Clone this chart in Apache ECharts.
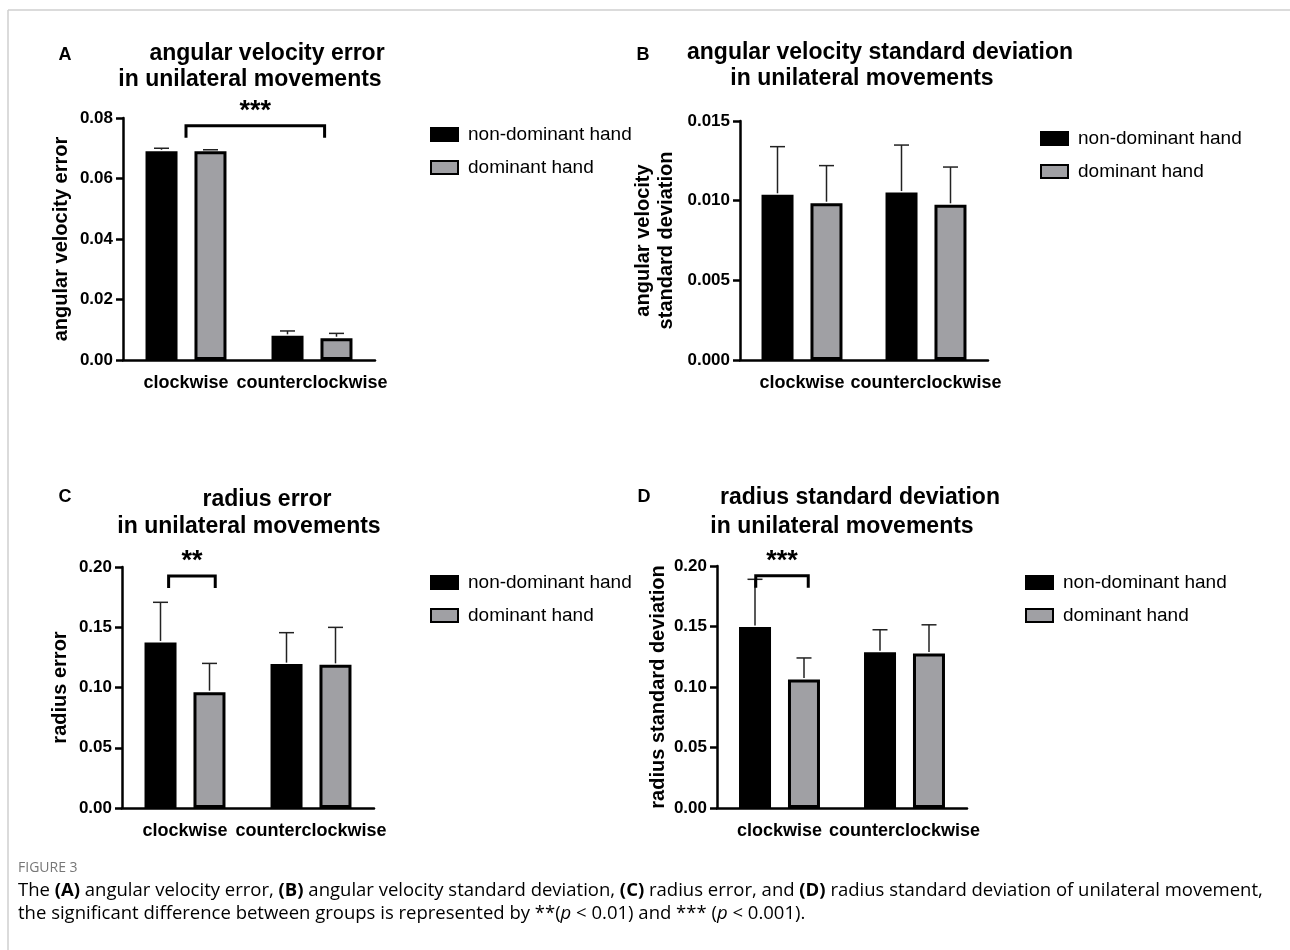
<!DOCTYPE html>
<html>
<head>
<meta charset="utf-8">
<script src="https://cdn.jsdelivr.net/npm/echarts@6/dist/echarts.min.js"></script>
<style>
  html, body { margin: 0; padding: 0; background: #fff; }
  #chart { width: 1290px; height: 950px; }
</style>
</head>
<body>
<div id="chart"></div>
<script>
const categories = ['clockwise', 'counterclockwise'];
const groupNames = ['non-dominant hand', 'dominant hand'];

// A: angular velocity error
const avErrNonDom = [0.0690, 0.0080];
const avErrNonDomSem = [0.0010, 0.0016];
const avErrDom = [0.0690, 0.0072];
const avErrDomSem = [0.0005, 0.0016];
// B: angular velocity standard deviation
const avSdNonDom = [0.01037, 0.01051];
const avSdNonDomSem = [0.00302, 0.00298];
const avSdDom = [0.00984, 0.00974];
const avSdDomSem = [0.00236, 0.00237];
// C: radius error
const radErrNonDom = [0.1374, 0.1194];
const radErrNonDomSem = [0.0333, 0.0261];
const radErrDom = [0.0961, 0.1188];
const radErrDomSem = [0.0239, 0.0311];
// D: radius standard deviation
const radSdNonDom = [0.1495, 0.1288];
const radSdNonDomSem = [0.0395, 0.0185];
const radSdDom = [0.1063, 0.1277];
const radSdDomSem = [0.0177, 0.0237];

// significance brackets: [from, to] in category units, height, label
const bracketA = { from: 0, to: 1.1, y: 0.0774, label: '***' };
const bracketC = { from: -0.13, to: 0.24, y: 0.1925, label: '**' };
const bracketD = { from: -0.19, to: 0.23, y: 0.192, label: '***' };

const yTicksA = { max: 0.08, interval: 0.02, digits: 2 };
const yTicksB = { max: 0.015, interval: 0.005, digits: 3 };
const yTicksC = { max: 0.2, interval: 0.05, digits: 2 };
const yTicksD = { max: 0.2, interval: 0.05, digits: 2 };

const FONT = '"Liberation Sans", Arial, sans-serif';
const GRAY = '#a0a0a4';
const BAR_W = 32;
const HALF_STEP = 24.5; // (bar width + gap) / 2

const chart = echarts.init(document.getElementById('chart'));

function xAxis(gridIndex) {
  return {
    type: 'category', gridIndex: gridIndex, data: categories,
    axisLine: { lineStyle: { color: '#000', width: 2.5 } },
    axisTick: { alignWithLabel: true, length: 9, lineStyle: { color: '#000', width: 2.5 } },
    axisLabel: { color: '#000', fontFamily: FONT, fontWeight: 'bold', fontSize: 18, margin: 14, interval: 0 }
  };
}

function yAxis(gridIndex, t, name, nameGap) {
  return {
    type: 'value', gridIndex: gridIndex, min: 0, max: t.max, interval: t.interval,
    name: name, nameLocation: 'middle', nameGap: nameGap, nameRotate: 90,
    nameTextStyle: { color: '#000', fontFamily: FONT, fontWeight: 'bold', fontSize: 20, lineHeight: 23 },
    axisLine: { show: true, lineStyle: { color: '#000', width: 2.5 } },
    axisTick: { show: true, length: 7, lineStyle: { color: '#000', width: 2.5 } },
    axisLabel: { color: '#000', fontFamily: FONT, fontWeight: 'bold', fontSize: 17, margin: 10,
      formatter: function (v) { return v.toFixed(t.digits); } },
    splitLine: { show: false }
  };
}

function barSeries(idx, name, values, color) {
  return {
    type: 'bar', name: name, xAxisIndex: idx, yAxisIndex: idx, data: values,
    barWidth: BAR_W, barGap: '53%',
    itemStyle: { color: color, borderColor: '#000', borderWidth: 3 },
    emphasis: { disabled: true }
  };
}

function errSeries(idx, values, sems, offset) {
  return {
    type: 'custom', xAxisIndex: idx, yAxisIndex: idx, z: 3,
    data: values.map(function (v, i) { return [i, v, sems[i]]; }),
    encode: { x: 0, y: 1 },
    renderItem: function (params, api) {
      const base = api.coord([api.value(0), api.value(1)]);
      const top = api.coord([api.value(0), api.value(1) + api.value(2)]);
      const x = base[0] + offset;
      const st = { stroke: '#222', lineWidth: 1.5 };
      return { type: 'group', children: [
        { type: 'line', shape: { x1: x, y1: base[1] - 1.5, x2: x, y2: top[1] }, style: st },
        { type: 'line', shape: { x1: x - 7.5, y1: top[1], x2: x + 7.5, y2: top[1] }, style: st }
      ] };
    }
  };
}

function bracketSeries(idx, b) {
  return {
    type: 'custom', xAxisIndex: idx, yAxisIndex: idx, z: 4,
    data: [[0, b.y, b.from, b.to]],
    encode: { x: 0, y: 1 },
    renderItem: function (params, api) {
      const p0 = api.coord([0, api.value(1)]);
      const p1 = api.coord([1, api.value(1)]);
      const step = p1[0] - p0[0];
      const xa = p0[0] + api.value(2) * step;
      const xb = p0[0] + api.value(3) * step;
      const y = p0[1];
      return { type: 'group', children: [
        { type: 'polyline', shape: { points: [[xa, y + 12], [xa, y], [xb, y], [xb, y + 12]] },
          style: { stroke: '#000', lineWidth: 3, fill: null } },
        { type: 'text', x: (xa + xb) / 2, y: y - 1,
          style: { text: b.label, fill: '#000', font: 'bold 27px ' + FONT, align: 'center', verticalAlign: 'bottom' } }
      ] };
    }
  };
}

function panelSeries(idx, nonDom, nonDomSem, dom, domSem) {
  return [
    barSeries(idx, groupNames[0], nonDom, '#000'),
    barSeries(idx, groupNames[1], dom, GRAY),
    errSeries(idx, nonDom, nonDomSem, -HALF_STEP),
    errSeries(idx, dom, domSem, HALF_STEP)
  ];
}

function legend(left, top) {
  return {
    left: left, top: top, orient: 'vertical', icon: 'rect', itemWidth: 27, itemHeight: 13, itemGap: 14,
    selectedMode: false, data: groupNames,
    textStyle: { color: '#000', fontFamily: FONT, fontSize: 19, padding: [0, 0, 0, 5] }
  };
}

function txt(x, y, s, size, align) {
  return { type: 'text', x: x, y: y,
    style: { text: s, fill: '#000', font: 'bold ' + size + 'px ' + FONT, align: align || 'center', verticalAlign: 'middle' } };
}

const capFont = '"Open Sans", "Noto Sans", sans-serif';
const capRich = {
  n: { fontFamily: capFont, fontSize: 18.5, color: '#6b6b6b' },
  b: { fontFamily: capFont, fontSize: 18.5, color: '#6b6b6b', fontWeight: 'bold' },
  i: { fontFamily: capFont, fontSize: 18.5, color: '#6b6b6b', fontStyle: 'italic' }
};

const option = {
  backgroundColor: '#fff',
  animation: false,
  grid: [
    { left: 123, top: 118, width: 252, height: 242 },
    { left: 740, top: 121, width: 248, height: 239 },
    { left: 122, top: 567, width: 252, height: 241 },
    { left: 717, top: 566, width: 250, height: 242 }
  ],
  xAxis: [xAxis(0), xAxis(1), xAxis(2), xAxis(3)],
  yAxis: [
    yAxis(0, yTicksA, 'angular velocity error', 50),
    yAxis(1, yTicksB, 'angular velocity\nstandard deviation', 62),
    yAxis(2, yTicksC, 'radius error', 50),
    yAxis(3, yTicksD, 'radius standard deviation', 46)
  ],
  legend: [legend(425, 120), legend(1035, 124), legend(425, 568), legend(1020, 568)],
  series: [].concat(
    panelSeries(0, avErrNonDom, avErrNonDomSem, avErrDom, avErrDomSem),
    panelSeries(1, avSdNonDom, avSdNonDomSem, avSdDom, avSdDomSem),
    panelSeries(2, radErrNonDom, radErrNonDomSem, radErrDom, radErrDomSem),
    panelSeries(3, radSdNonDom, radSdNonDomSem, radSdDom, radSdDomSem),
    [bracketSeries(0, bracketA), bracketSeries(2, bracketC), bracketSeries(3, bracketD)]
  ),
  graphic: [
    { type: 'line', shape: { x1: 8, y1: 10, x2: 1290, y2: 10 }, style: { stroke: '#cfcfcf', lineWidth: 1.5 } },
    { type: 'line', shape: { x1: 8, y1: 10, x2: 8, y2: 950 }, style: { stroke: '#cfcfcf', lineWidth: 1.5 } },
    txt(65, 55, 'A', 18), txt(643, 55, 'B', 18), txt(65, 497, 'C', 18), txt(644, 497, 'D', 18),
    txt(267, 54, 'angular velocity error', 23), txt(250, 80, 'in unilateral movements', 23),
    txt(880, 53, 'angular velocity standard deviation', 23), txt(862, 79, 'in unilateral movements', 23),
    txt(267, 500, 'radius error', 23), txt(249, 527, 'in unilateral movements', 23),
    txt(860, 498, 'radius standard deviation', 23), txt(842, 527, 'in unilateral movements', 23),
    { type: 'text', x: 18, y: 868, style: { text: 'FIGURE 3', fill: '#777', font: '14px ' + capFont, verticalAlign: 'middle' } },
    { type: 'text', x: 18, y: 891, style: { verticalAlign: 'middle', rich: capRich,
      text: '{n|The }{b|(A)}{n| angular velocity error, }{b|(B)}{n| angular velocity standard deviation, }{b|(C)}{n| radius error, and }{b|(D)}{n| radius standard deviation of unilateral movement,}' } },
    { type: 'text', x: 18, y: 914, style: { verticalAlign: 'middle', rich: capRich,
      text: '{n|the significant difference between groups is represented by **(}{i|p}{n| < 0.01) and *** (}{i|p}{n| < 0.001).}' } }
  ]
};

chart.setOption(option);
</script>
</body>
</html>
